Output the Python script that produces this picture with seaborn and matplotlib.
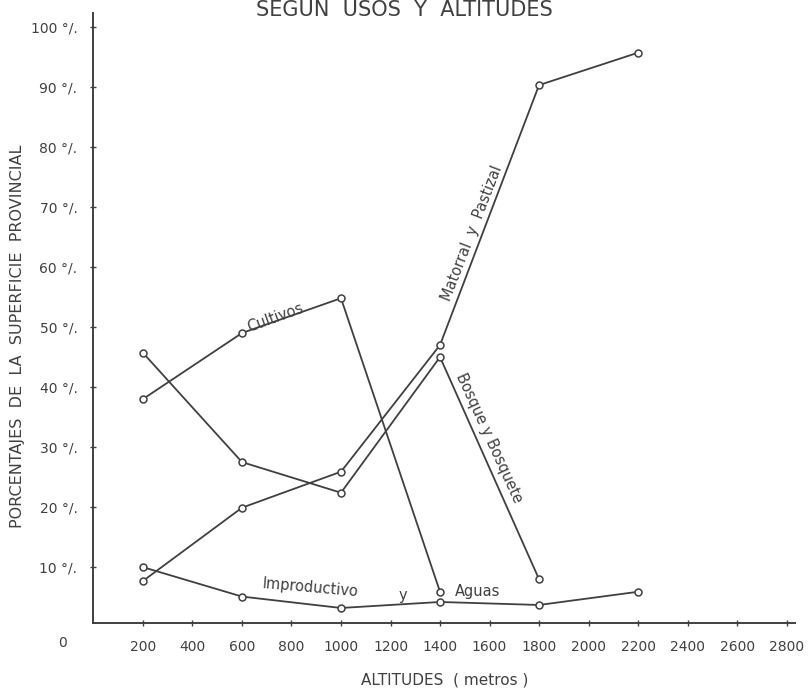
import matplotlib
matplotlib.use("Agg")
import matplotlib.pyplot as plt
import numpy as np
import pandas as pd
import seaborn as sns

# data
altitudes = [200, 600, 1000, 1400, 1800, 2200]
cultivos = [38.0, 49.0, 54.8, 5.9]
bosque = [45.7, 27.5, 22.4, 45.0, 8.0]
matorral = [7.7, 19.9, 25.9, 47.0, 90.3, 95.7]
improductivo = [10.0, 5.1, 3.2, 4.2, 3.7, 5.9]

x_ticks = list(range(200, 2801, 200))
y_ticks = list(range(10, 101, 10))
y_tick_labels = [f"{v} °/." for v in y_ticks]

INK = "#404040"

series = {
    "Cultivos": cultivos,
    "Bosque y Bosquete": bosque,
    "Matorral y Pastizal": matorral,
    "Improductivo y Aguas": improductivo,
}
df = pd.concat(
    [pd.DataFrame({"altitud": altitudes[:len(v)], "pct": v, "uso": k}) for k, v in series.items()],
    ignore_index=True,
)

sns.set_style("ticks")
plt.rcParams["font.family"] = ["DejaVu Sans"]

fig = plt.figure(figsize=(8.09, 6.88), dpi=100)
ax = fig.add_axes([0.1155, 0.0945, 0.8675, 0.8865])

sns.lineplot(
    data=df, x="altitud", y="pct", hue="uso", units="uso", estimator=None,
    palette={k: INK for k in series}, legend=False, sort=False, ax=ax,
    marker="o", markersize=5, markerfacecolor="white", markeredgecolor=INK,
    markeredgewidth=1.1, linewidth=1.3,
)

ax.set_xlim(0, 2835)
ax.set_ylim(0.7, 102.3)
ax.set_xticks(x_ticks)
ax.set_xticklabels([str(v) for v in x_ticks])
ax.set_yticks(y_ticks)
ax.set_yticklabels(y_tick_labels)
ax.tick_params(axis="both", direction="inout", length=5, width=1, color=INK,
               labelcolor=INK, labelsize=10)
ax.tick_params(axis="x", pad=10)
ax.tick_params(axis="y", pad=9)
sns.despine(ax=ax)
for side in ("left", "bottom"):
    ax.spines[side].set_color(INK)
    ax.spines[side].set_linewidth(1.4)

ax.set_xlabel("ALTITUDES  ( metros )", fontsize=11, color=INK, labelpad=13)
ax.set_ylabel("PORCENTAJES  DE  LA  SUPERFICIE  PROVINCIAL", fontsize=11.5, color=INK)
ax.yaxis.set_label_coords(-0.097, 0.47)

# corner zero
ax.text(-123, -0.033, "0", transform=ax.get_xaxis_transform(), ha="center", va="center",
        fontsize=10, color=INK, clip_on=False)

# inline series labels
lab = dict(fontsize=10.5, color=INK, ha="center", va="center", rotation_mode="anchor")
ax.text(733, 51.6, "Cultivos", rotation=20, **lab)
ax.text(1530, 65.7, "Matorral  y  Pastizal", rotation=68.8, **lab)
ax.text(1600, 31.5, "Bosque y Bosquete", rotation=-65.5, **lab)
ax.text(875, 6.6, "Improductivo", rotation=-5, **lab)
ax.text(1251, 5.2, "y", **lab)
ax.text(1550, 6.0, "Aguas", **lab)

fig.text(0.5, 1 - 16 / 688, "SEGUN  USOS  Y  ALTITUDES", ha="center", va="baseline",
         fontsize=15, color=INK)

fig.savefig("out.png", dpi=100, facecolor="white")
